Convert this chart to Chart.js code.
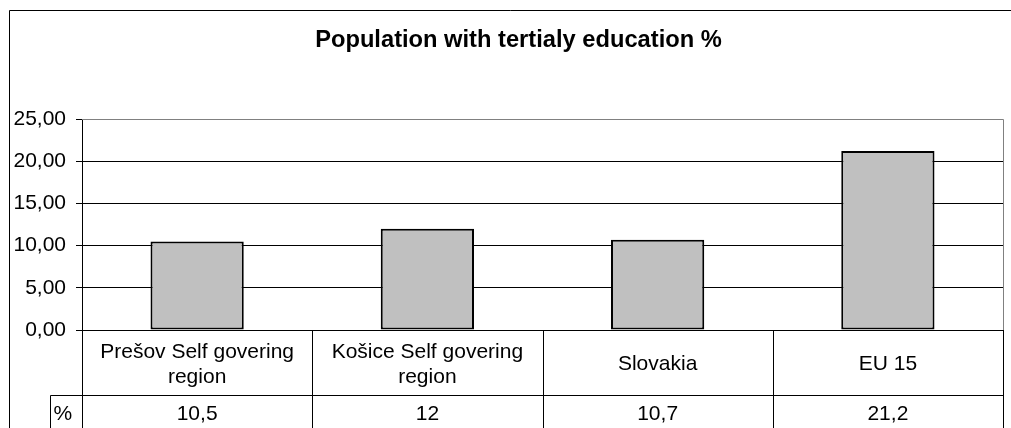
<!DOCTYPE html>
<html>
<head>
<meta charset="utf-8">
<script src="https://cdn.jsdelivr.net/npm/chart.js@4/dist/chart.umd.min.js"></script>
<style>
html, body { margin: 0; padding: 0; background: #fff; }
canvas { display: block; }
</style>
</head>
<body>
<canvas id="chart" width="1011" height="428"></canvas>
<script>
// data
var chartTitle = 'Population with tertialy education %';
var categories = [['Prešov Self govering', 'region'], ['Košice Self govering', 'region'], ['Slovakia'], ['EU 15']];
var values = [10.5, 12, 10.7, 21.2];
var valueLabels = ['10,5', '12', '10,7', '21,2'];
var seriesName = '%';
var yMax = 25;
var yStep = 5;

var fontFamily = 'Arial, "Liberation Sans", sans-serif';

// draws the white background and the outer frame of the chart,
// and nudges the title a little to the right like in the picture
var framePlugin = {
    id: 'frame',
    afterLayout: function(chart) {
        if (chart.titleBlock) {
            chart.titleBlock.left += 34;
        }
    },
    beforeDraw: function(chart) {
        var ctx = chart.ctx;
        ctx.save();
        ctx.fillStyle = '#fff';
        ctx.fillRect(0, 0, chart.width, chart.height);
        ctx.strokeStyle = '#000';
        ctx.lineWidth = 1;
        ctx.beginPath();
        ctx.moveTo(9.5, chart.height);
        ctx.lineTo(9.5, 10.5);
        ctx.lineTo(chart.width, 10.5);
        ctx.stroke();
        ctx.restore();
    }
};

// draws the Excel style data table under the plot, lined up with the x scale
var tablePlugin = {
    id: 'dataTable',
    afterDraw: function(chart) {
        var ctx = chart.ctx;
        var area = chart.chartArea;
        var xs = chart.scales.x;
        var half = (xs.getPixelForValue(1) - xs.getPixelForValue(0)) / 2;
        var rowLine = Math.round(area.bottom + 65) + 0.5;
        var labelLeft = 50.5;

        ctx.save();

        // plot area border (top and right are grey)
        ctx.strokeStyle = '#808080';
        ctx.lineWidth = 1;
        ctx.beginPath();
        ctx.moveTo(Math.round(area.left), Math.round(area.top) + 0.5);
        ctx.lineTo(Math.round(area.right) + 0.5, Math.round(area.top) + 0.5);
        ctx.lineTo(Math.round(area.right) + 0.5, Math.round(area.bottom));
        ctx.stroke();

        // table lines
        ctx.strokeStyle = '#000';
        ctx.beginPath();
        for (let i = 0; i < categories.length; i++) {
            var xl = Math.round(xs.getPixelForValue(i) - half) + 0.5;
            ctx.moveTo(xl, area.bottom);
            ctx.lineTo(xl, chart.height);
        }
        var xr = Math.round(xs.getPixelForValue(categories.length - 1) + half) + 0.5;
        ctx.moveTo(xr, area.bottom);
        ctx.lineTo(xr, chart.height);
        ctx.moveTo(labelLeft, rowLine);
        ctx.lineTo(xr, rowLine);
        ctx.moveTo(labelLeft, rowLine);
        ctx.lineTo(labelLeft, chart.height);
        ctx.stroke();

        // table text
        ctx.fillStyle = '#000';
        ctx.font = '21px ' + fontFamily;
        ctx.textAlign = 'center';
        ctx.textBaseline = 'middle';
        var rowMid = (area.bottom + rowLine) / 2 + 1.5;
        var lineGap = 25;
        for (let i = 0; i < categories.length; i++) {
            var cx = xs.getPixelForValue(i);
            var lines = categories[i];
            var y0 = rowMid - (lines.length - 1) * lineGap / 2;
            for (let j = 0; j < lines.length; j++) {
                ctx.fillText(lines[j], cx, y0 + j * lineGap);
            }
            ctx.fillText(valueLabels[i], cx, rowLine + 18.5);
        }
        ctx.textAlign = 'left';
        ctx.fillText(seriesName, labelLeft + 3, rowLine + 18.5);

        ctx.restore();
    }
};

new Chart(document.getElementById('chart'), {
    type: 'bar',
    data: {
        labels: categories.map(function(c) { return c.join(' '); }),
        datasets: [{
            label: seriesName,
            data: values,
            backgroundColor: '#c0c0c0',
            borderColor: '#000',
            borderWidth: 2,
            borderSkipped: false,
            barPercentage: 0.81,
            categoryPercentage: 0.5
        }]
    },
    options: {
        responsive: false,
        animation: false,
        layout: {
            padding: { left: 0, right: 8, top: 0, bottom: 98 }
        },
        plugins: {
            legend: { display: false },
            tooltip: { enabled: false },
            title: {
                display: true,
                text: chartTitle,
                color: '#000',
                font: { family: fontFamily, size: 23.7, weight: 'bold' },
                padding: { top: 26, bottom: 64.56 }
            }
        },
        scales: {
            x: {
                display: false
            },
            y: {
                min: 0,
                max: yMax,
                afterFit: function(scale) { scale.width = 82; },
                ticks: {
                    stepSize: yStep,
                    color: '#000',
                    padding: 10,
                    font: { family: fontFamily, size: 21 },
                    callback: function(v) { return v.toFixed(2).replace('.', ','); }
                },
                grid: {
                    color: function(c) { return c.tick && c.tick.value === yMax ? '#808080' : '#000'; },
                    tickColor: '#000',
                    tickLength: 6,
                    lineWidth: 1
                },
                border: { color: '#000', width: 1 }
            }
        }
    },
    plugins: [framePlugin, tablePlugin]
});
</script>
</body>
</html>
